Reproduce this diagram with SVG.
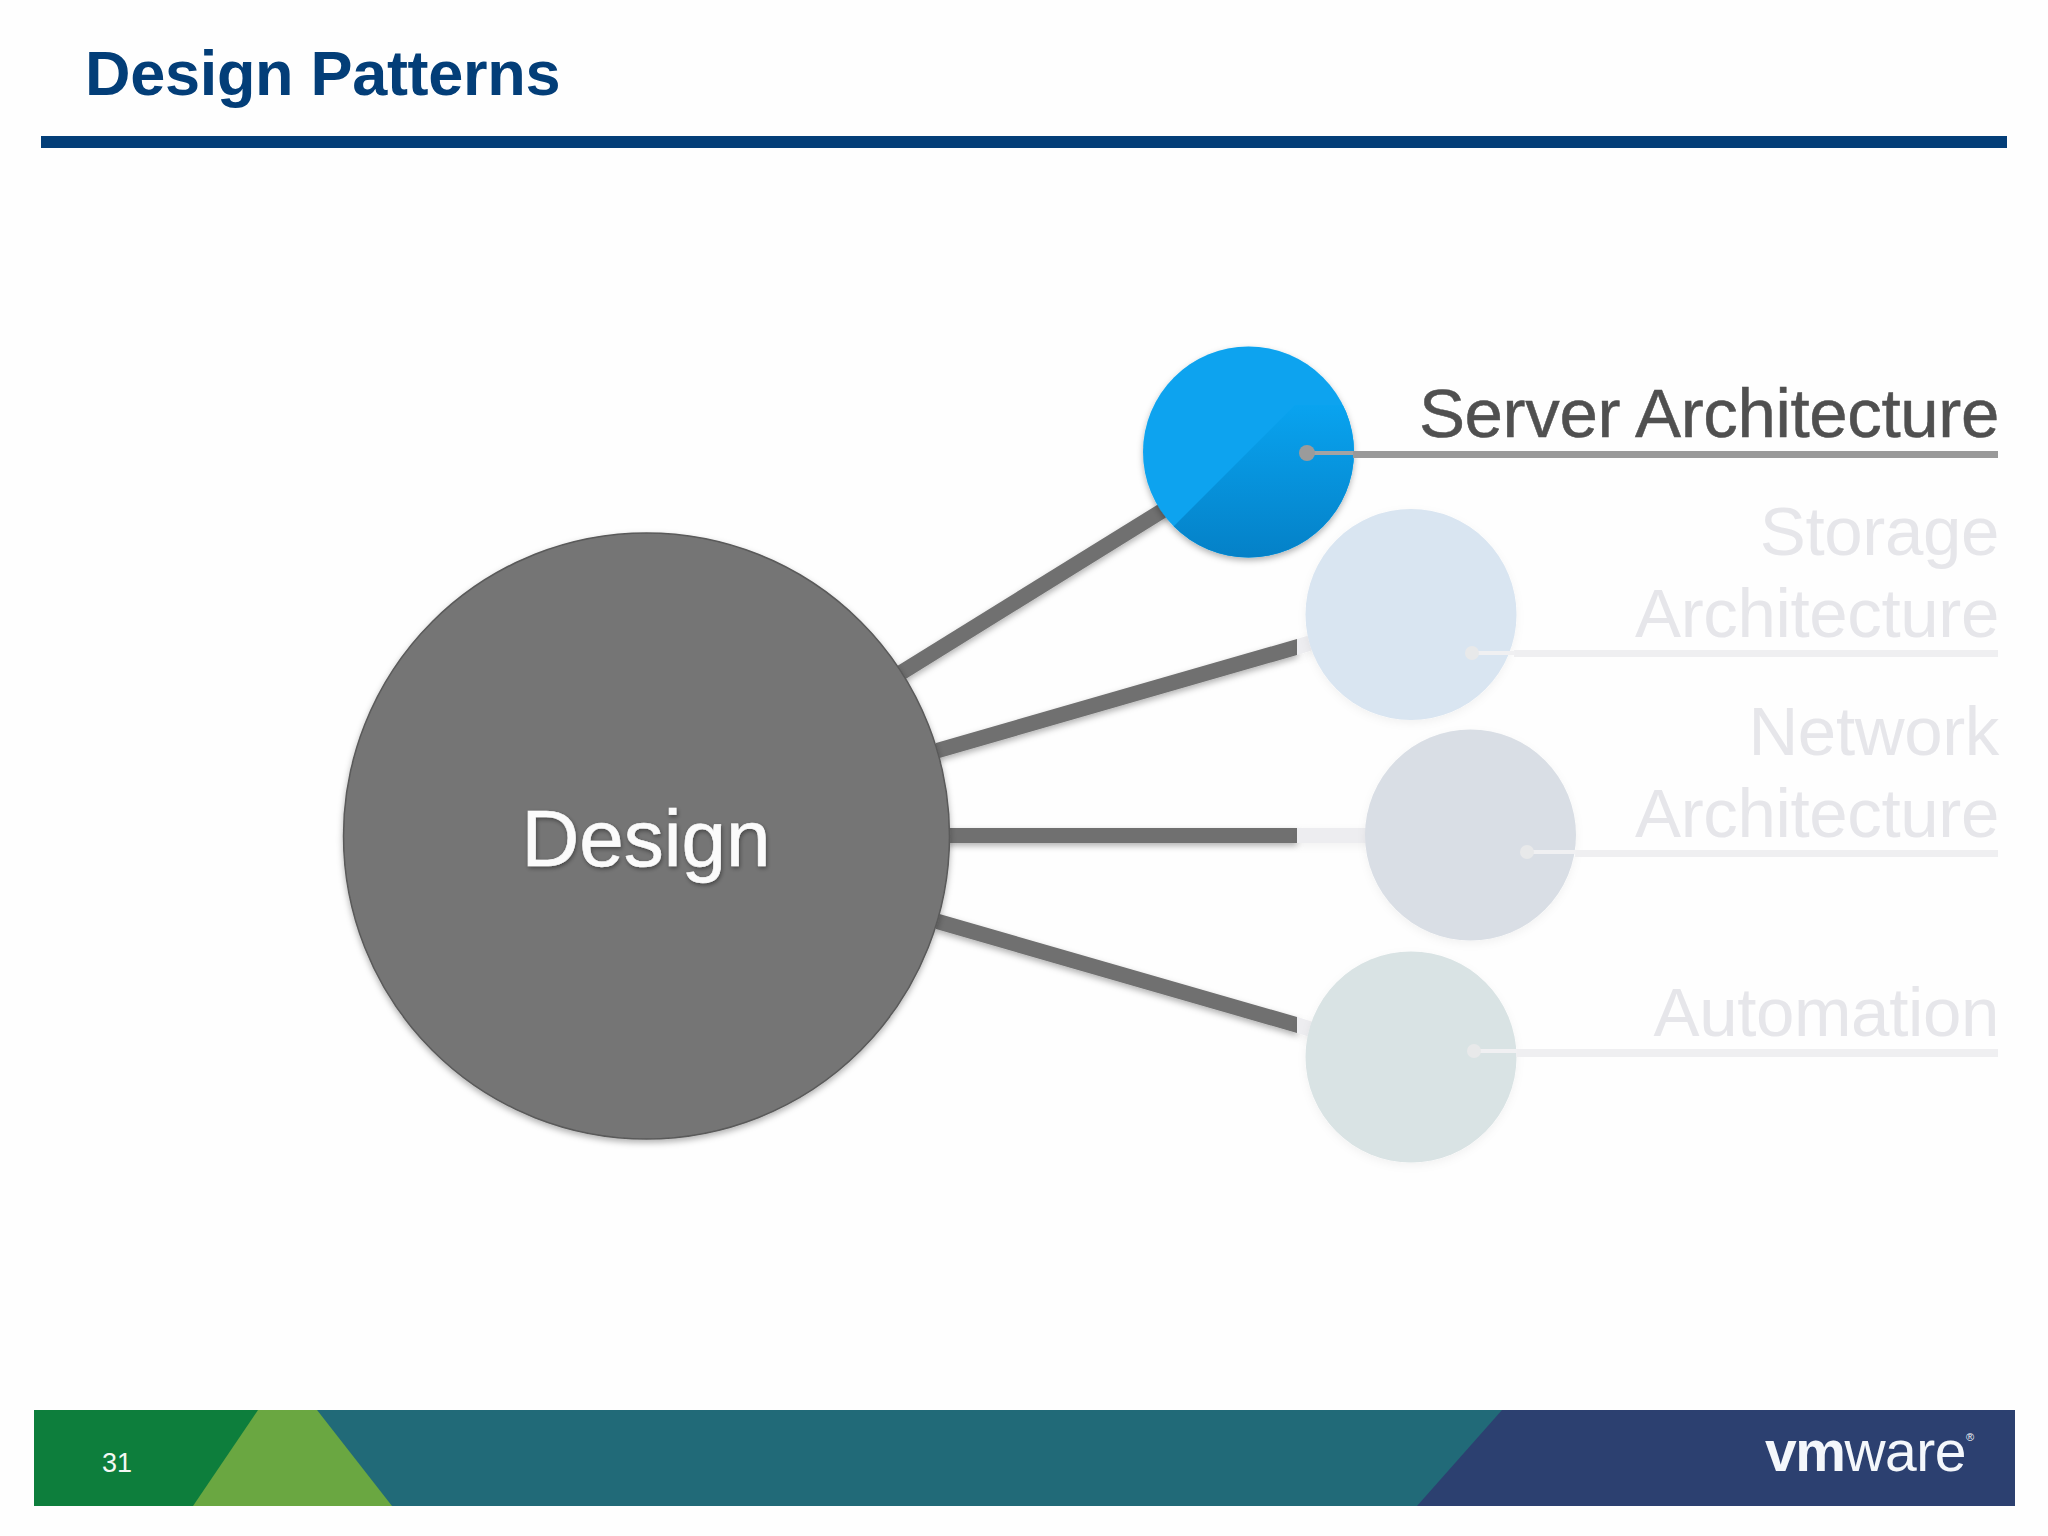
<svg xmlns="http://www.w3.org/2000/svg" width="2048" height="1536" viewBox="0 0 2048 1536">
<defs>
<style>
text{font-family:"Liberation Sans",Arial,sans-serif}
.lbl{font-size:69px;text-anchor:end;letter-spacing:-0.35px}
.faded{fill:#e6e6ea}
.conn{fill:#707070}
.pale{fill:#ededf0}
.lead{fill:#efeff1}
.thin{stroke:#f0f0f2;stroke-width:4}
.dot{fill:#e8e9ea}
</style>
<filter id="sh" x="-20%" y="-20%" width="140%" height="140%"><feDropShadow dx="0" dy="3" stdDeviation="3" flood-color="#000" flood-opacity="0.3"/></filter>
<filter id="shl" x="-20%" y="-20%" width="140%" height="140%"><feDropShadow dx="0" dy="3" stdDeviation="4" flood-color="#000" flood-opacity="0.05"/></filter>
<filter id="ts" x="-10%" y="-20%" width="120%" height="140%"><feDropShadow dx="1" dy="2" stdDeviation="2" flood-color="#000" flood-opacity="0.4"/></filter>
<linearGradient id="blueDark" x1="0" y1="0" x2="0" y2="1"><stop offset="0" stop-color="#09a3ef"/><stop offset="1" stop-color="#047ec4"/></linearGradient>
<clipPath id="blueClip"><circle cx="1248.500" cy="452" r="105.500"/></clipPath>
</defs>
<rect width="2048" height="1536" fill="#fefefe"/>
<text x="85" y="95" font-size="63" font-weight="700" fill="#033e78" letter-spacing="-0.3">Design Patterns</text>
<rect x="41" y="136" width="1966" height="12" fill="#033e78"/>

<g id="connectors">
<g filter="url(#sh)">
<polygon class="conn" points="894,668 1170,497 1170,515 904,680"/>
<polygon class="conn" points="936,743 1297,639 1297,655 936,759"/>
<rect class="conn" x="945" y="828" width="352" height="15"/>
<polygon class="conn" points="936,913 1297,1017 1297,1033 936,929"/>
</g>
<g filter="url(#shl)">
<polygon class="pale" points="1297,639 1320,632 1320,648 1297,655"/>
<rect class="pale" x="1297" y="828" width="73" height="15"/>
<polygon class="pale" points="1297,1017 1320,1024 1320,1040 1297,1033"/>
</g>
</g>

<g id="node-design">
<circle cx="646.500" cy="836" r="303" fill="#747474" stroke="#5a5a5a" stroke-width="1.500" filter="url(#sh)"/>
<text x="646" y="866" font-size="80" text-anchor="middle" fill="#fbfbfb" stroke="#fbfbfb" stroke-width="0.6" filter="url(#ts)">Design</text>
</g>

<g id="node-server">
<circle cx="1248.500" cy="452" r="105.500" fill="#09a3ef" filter="url(#sh)"/>
<polygon points="1165,535 1295,405 1370,405 1370,570 1165,570" fill="url(#blueDark)" clip-path="url(#blueClip)"/>
<rect x="1353" y="451" width="645" height="7" fill="#999"/>
<line x1="1307" y1="453" x2="1353" y2="453" stroke="#a3a3a3" stroke-width="4"/>
<circle cx="1307" cy="453" r="8" fill="#9b9b9b"/>
<text class="lbl" x="1999" y="437" fill="#505050" stroke="#505050" stroke-width="0.5">Server Architecture</text>
</g>

<g id="node-storage">
<circle cx="1411" cy="614.500" r="105.500" fill="#d9e5f1" filter="url(#shl)"/>
<rect x="1514" y="650" width="484" height="7" class="lead"/>
<line class="thin" x1="1472" y1="653" x2="1515" y2="653"/>
<circle class="dot" cx="1472" cy="653" r="7"/>
<text class="lbl faded" x="1999" y="555">Storage</text>
<text class="lbl faded" x="1999" y="637">Architecture</text>
</g>

<g id="node-network">
<circle cx="1470.500" cy="835" r="105.500" fill="#d9dee5" filter="url(#shl)"/>
<rect x="1575" y="850" width="423" height="7" class="lead"/>
<line class="thin" x1="1527" y1="852" x2="1576" y2="852"/>
<circle class="dot" cx="1527" cy="852" r="7"/>
<text class="lbl faded" x="1999" y="755">Network</text>
<text class="lbl faded" x="1999" y="837">Architecture</text>
</g>

<g id="node-automation">
<circle cx="1411" cy="1057" r="105.500" fill="#d9e3e4" filter="url(#shl)"/>
<rect x="1516" y="1049" width="482" height="8" class="lead"/>
<line class="thin" x1="1474" y1="1051" x2="1517" y2="1051"/>
<circle class="dot" cx="1474" cy="1051" r="7"/>
<text class="lbl faded" x="1999" y="1036">Automation</text>
</g>

<rect x="34" y="1410" width="300" height="96" fill="#0d7e3c"/>
<rect x="300" y="1410" width="1230" height="96" fill="#216a78"/>
<polygon points="1502,1410 2015,1410 2015,1506 1417,1506" fill="#2c4070"/>
<polygon points="258,1410 317,1410 392,1506 193,1506" fill="#6aa741"/>
<text x="102" y="1472" font-size="27" fill="#f4f8f4">31</text>
<text x="1765" y="1471" font-size="57" fill="#f4f7fb"><tspan font-weight="700" letter-spacing="-1.500">vm</tspan><tspan letter-spacing="-0.5">ware</tspan><tspan font-size="11" dy="-30">®</tspan></text>
</svg>
